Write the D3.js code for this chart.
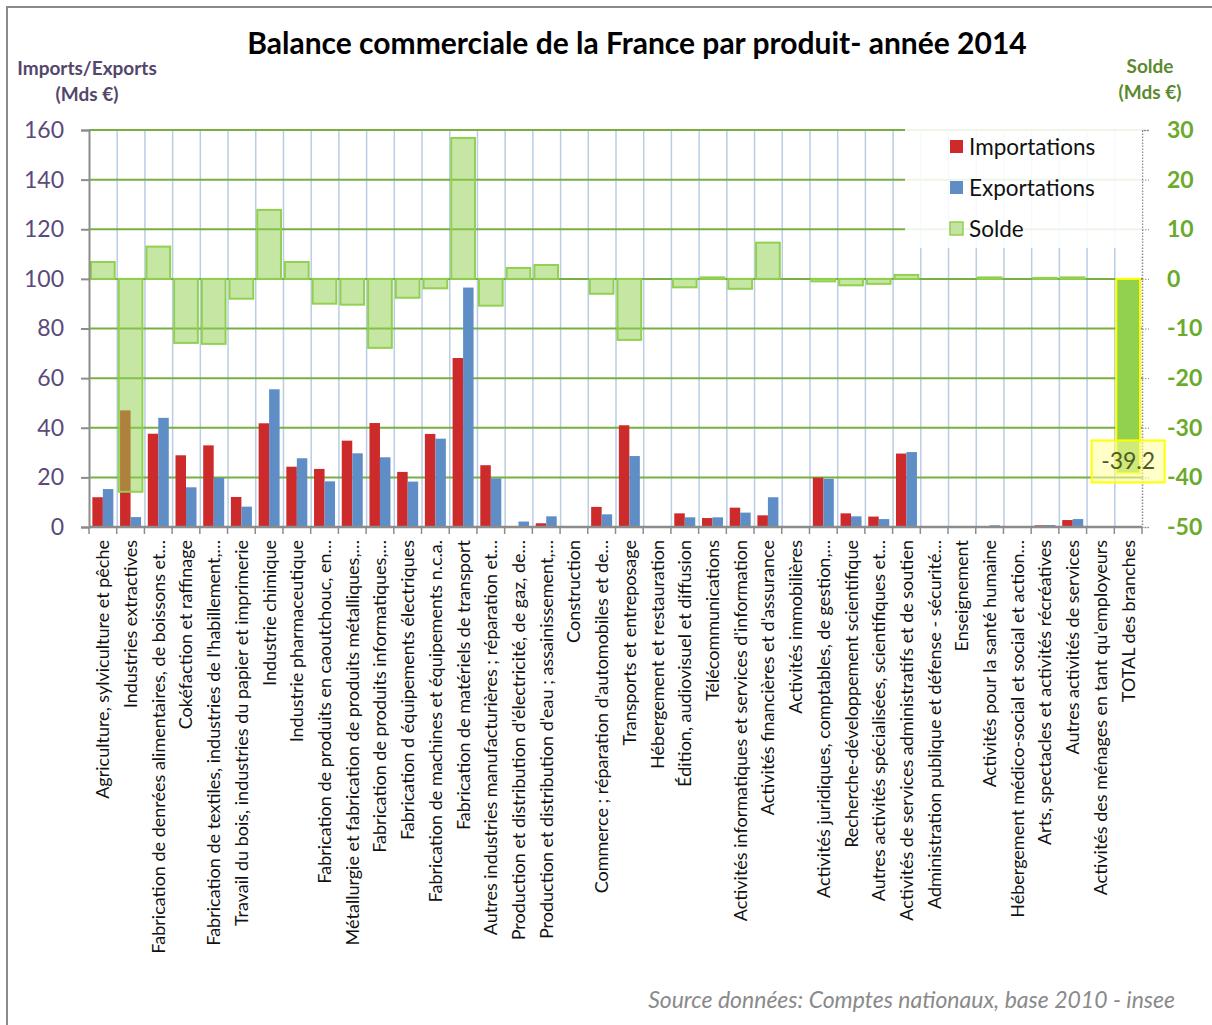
<!DOCTYPE html>
<html>
<head>
<meta charset="utf-8">
<script src="https://cdn.jsdelivr.net/npm/d3@7"></script>
<style>
  body { margin: 0; background: #fff; }
  svg { display: block; font-family: Lato, "Noto Sans", sans-serif; }
</style>
</head>
<body>
<svg id="chart"></svg>
<script>
// categories (labels truncated as in the original Excel chart)
const categories = [
  'Agriculture, sylviculture et pêche',
  'Industries extractives',
  'Fabrication de denrées alimentaires, de boissons et…',
  'Cokéfaction et raffinage',
  "Fabrication de textiles, industries de l'habillement,…",
  'Travail du bois, industries du papier et imprimerie',
  'Industrie chimique',
  'Industrie pharmaceutique',
  'Fabrication de produits en caoutchouc, en…',
  'Métallurgie et fabrication de produits métalliques,…',
  'Fabrication de produits informatiques,…',
  'Fabrication d équipements électriques',
  'Fabrication de machines et équipements n.c.a.',
  'Fabrication de matériels de transport',
  'Autres industries manufacturières ; réparation et…',
  "Production et distribution d'électricité, de gaz, de…",
  "Production et distribution d'eau ; assainissement,…",
  'Construction',
  "Commerce ; réparation d'automobiles et de…",
  'Transports et entreposage',
  'Hébergement et restauration',
  'Édition, audiovisuel et diffusion',
  'Télécommunications',
  "Activités informatiques et services d'information",
  "Activités financières et d'assurance",
  'Activités immobilières',
  'Activités juridiques, comptables, de gestion,…',
  'Recherche-développement scientifique',
  'Autres activités spécialisées, scientifiques et…',
  'Activités de services administratifs et de soutien',
  'Administration publique et défense - sécurité…',
  'Enseignement',
  'Activités pour la santé humaine',
  'Hébergement médico-social et social et action…',
  'Arts, spectacles et activités récréatives',
  'Autres activités de services',
  "Activités des ménages en tant qu'employeurs",
  'TOTAL des branches'
];

// Mds €
const importations = [12.0, 47.0, 37.6, 28.9, 32.9, 12.1, 41.8, 24.3, 23.4, 34.8,
  41.9, 22.2, 37.5, 68.1, 24.9, 0, 1.5, 0, 8.1, 41.0,
  0, 5.5, 3.6, 7.8, 4.7, 0, 19.9, 5.5, 4.2, 29.6,
  0, 0, 0.4, 0, 0.7, 2.8, 0, null];
const exportations = [15.3, 4.0, 44.0, 16.0, 19.8, 8.2, 55.5, 27.7, 18.4, 29.7,
  28.1, 18.3, 35.6, 96.5, 19.6, 2.2, 4.3, 0, 5.1, 28.6,
  0, 3.9, 3.9, 5.8, 12.0, 0, 19.4, 4.3, 3.2, 30.2,
  0, 0, 0.7, 0, 0.8, 3.2, 0, null];
const solde = [3.4, -42.9, 6.5, -12.9, -13.1, -4.0, 13.9, 3.4, -5.0, -5.2,
  -13.9, -3.8, -1.9, 28.4, -5.4, 2.2, 2.8, 0, -3.0, -12.3,
  0, -1.7, 0.3, -2.0, 7.3, 0, -0.5, -1.3, -1.0, 0.8,
  0, 0, 0.3, 0, 0.2, 0.3, 0, -39.2];

const leftTicks = [0, 20, 40, 60, 80, 100, 120, 140, 160];
const rightTicks = [-50, -40, -30, -20, -10, 0, 10, 20, 30];
const seriesNames = ['Importations', 'Exportations', 'Solde'];

const width = 1212, height = 1025;
const margin = { top: 130, right: 70, bottom: 498, left: 89 };
const plotW = width - margin.left - margin.right;   // ends at x = 1142
const plotH = height - margin.top - margin.bottom;  // ends at y = 527

const colors = {
  imp: '#cc2a2b',
  exp: '#5f8ec6',
  solde: '#92d050',
  grid: '#77b040',
  vgrid: '#b9cde5',
  axis: '#8c8c8c',
  leftText: '#5a4a7a',
  rightText: '#6aaa2c'
};

const svg = d3.select('#chart')
  .attr('width', width)
  .attr('height', height);

// outer frame (only left and top edges are visible)
svg.append('rect')
  .attr('x', 7).attr('y', 7)
  .attr('width', 1220).attr('height', 1030)
  .attr('fill', 'none')
  .attr('stroke', '#8a8a8a')
  .attr('stroke-width', 2);

const x = d3.scaleBand()
  .domain(categories)
  .range([0, plotW]);

const xInner = d3.scaleBand()
  .domain(['imp', 'exp'])
  .range([0, x.bandwidth()])
  .paddingOuter(0.32);

const yLeft = d3.scaleLinear().domain([0, 160]).range([plotH, 0]);
const yRight = d3.scaleLinear().domain([-50, 30]).range([plotH, 0]);

const g = svg.append('g')
  .attr('transform', `translate(${margin.left},${margin.top})`);

// vertical grid lines at category boundaries
g.append('g')
  .selectAll('line')
  .data(categories.slice(1))
  .join('line')
    .attr('x1', d => x(d) + 0.5)
    .attr('x2', d => x(d) + 0.5)
    .attr('y1', 0)
    .attr('y2', plotH)
    .attr('stroke', colors.vgrid)
    .attr('stroke-width', 1.5);

// horizontal grid lines
g.append('g')
  .selectAll('line')
  .data(leftTicks.filter(d => d > 0))
  .join('line')
    .attr('x1', 0)
    .attr('x2', plotW)
    .attr('y1', d => yLeft(d))
    .attr('y2', d => yLeft(d))
    .attr('stroke', colors.grid)
    .attr('stroke-width', 2);

// imports / exports bars
const rows = categories.map((c, i) => ({ cat: c, imp: importations[i], exp: exportations[i], solde: solde[i] }));

['imp', 'exp'].forEach(key => {
  g.append('g')
    .selectAll('rect')
    .data(rows.filter(d => d[key]))
    .join('rect')
      .attr('x', d => x(d.cat) + xInner(key))
      .attr('y', d => yLeft(d[key]))
      .attr('width', xInner.bandwidth())
      .attr('height', d => yLeft(0) - yLeft(d[key]))
      .attr('fill', colors[key]);
});

// solde bars (secondary axis), semi transparent
const soldeInset = 2;
g.append('g')
  .selectAll('rect')
  .data(rows.filter(d => d.solde && d.cat !== 'TOTAL des branches'))
  .join('rect')
    .attr('x', d => x(d.cat) + soldeInset)
    .attr('y', d => yRight(Math.max(0, d.solde)))
    .attr('width', x.bandwidth() - soldeInset * 2)
    .attr('height', d => Math.abs(yRight(d.solde) - yRight(0)))
    .attr('fill', colors.solde)
    .attr('fill-opacity', 0.52)
    .attr('stroke', colors.solde)
    .attr('stroke-width', 2);

// total bar highlighted
const total = rows[rows.length - 1];
g.append('rect')
  .attr('x', x(total.cat) + soldeInset)
  .attr('y', yRight(0))
  .attr('width', x.bandwidth() - soldeInset * 2)
  .attr('height', yRight(total.solde) - yRight(0))
  .attr('fill', colors.solde)
  .attr('stroke', '#ffff00')
  .attr('stroke-width', 2);

// left axis
const leftAxis = g.append('g')
  .call(d3.axisLeft(yLeft).tickValues(leftTicks).tickSize(8).tickPadding(17));
leftAxis.select('.domain').attr('stroke', colors.axis).attr('stroke-width', 2);
leftAxis.selectAll('.tick line').attr('stroke', colors.axis).attr('stroke-width', 2);
leftAxis.selectAll('.tick text')
  .attr('fill', colors.leftText)
  .style('font-size', '23px')
  .style('font-family', 'Lato, sans-serif');

// right axis (dotted), plain hyphen for negatives like Excel
const rightAxis = g.append('g')
  .attr('transform', `translate(${plotW},0)`)
  .call(d3.axisRight(yRight).tickValues(rightTicks).tickSize(7).tickPadding(18)
    .tickFormat(d => String(d)));
rightAxis.select('.domain')
  .attr('stroke', colors.axis)
  .attr('stroke-width', 1.5)
  .attr('stroke-dasharray', '1.5,1.5');
rightAxis.selectAll('.tick line')
  .attr('stroke', colors.axis)
  .attr('stroke-dasharray', '1.5,1.5');
rightAxis.selectAll('.tick text')
  .attr('fill', colors.rightText)
  .style('font-size', '23px')
  .style('font-weight', 'bold')
  .style('font-family', 'Lato, sans-serif');

// bottom axis with ticks between categories
const bottom = g.append('g').attr('transform', `translate(0,${plotH})`);
bottom.append('line')
  .attr('x1', 0).attr('x2', plotW)
  .attr('stroke', colors.axis)
  .attr('stroke-width', 2.5);
bottom.selectAll('.cat-tick')
  .data(categories.concat(['end']))
  .join('line')
    .attr('class', 'cat-tick')
    .attr('x1', (d, i) => i * x.step())
    .attr('x2', (d, i) => i * x.step())
    .attr('y1', 0)
    .attr('y2', 7)
    .attr('stroke', colors.axis)
    .attr('stroke-width', 1.5);

// category labels, rotated
bottom.selectAll('.cat-label')
  .data(categories)
  .join('text')
    .attr('class', 'cat-label')
    .attr('transform', d => `translate(${x(d) + x.bandwidth() / 2},13) rotate(-90)`)
    .attr('dy', '0.36em')
    .attr('text-anchor', 'end')
    .attr('fill', '#111')
    .style('font-size', '18px')
    .text(d => d);

// label for total
const labelBox = { w: 73, h: 42 };
const lx = x(total.cat) + x.bandwidth() / 2;
const ly = yRight(total.solde) - 12;
g.append('rect')
  .attr('x', lx - labelBox.w / 2)
  .attr('y', ly - labelBox.h / 2)
  .attr('width', labelBox.w)
  .attr('height', labelBox.h)
  .attr('fill', '#ffff99')
  .attr('fill-opacity', 0.55)
  .attr('stroke', '#ffff00')
  .attr('stroke-width', 2);
g.append('text')
  .attr('x', lx)
  .attr('y', ly)
  .attr('dy', '0.35em')
  .attr('text-anchor', 'middle')
  .attr('fill', '#4e5a2c')
  .style('font-size', '23px')
  .text(total.solde.toFixed(1));

// legend
const legend = svg.append('g').attr('transform', 'translate(905,128)');
legend.append('rect')
  .attr('width', 237).attr('height', 120)
  .attr('fill', '#fff')
  .attr('fill-opacity', 0.88);
const legendItems = legend.selectAll('.item')
  .data(seriesNames)
  .join('g')
    .attr('class', 'item')
    .attr('transform', (d, i) => `translate(45,${12 + i * 41})`);
legendItems.append('rect')
  .attr('width', 13).attr('height', 13)
  .attr('fill', (d, i) => i === 0 ? colors.imp : i === 1 ? colors.exp : '#c4e3a0')
  .attr('stroke', (d, i) => i === 2 ? colors.solde : 'none')
  .attr('stroke-width', 1.5);
legendItems.append('text')
  .attr('x', 19)
  .attr('y', 7)
  .attr('dy', '0.36em')
  .attr('fill', '#111')
  .style('font-size', '22.5px')
  .text(d => d);

// titles
svg.append('text')
  .attr('x', 637).attr('y', 54)
  .attr('text-anchor', 'middle')
  .attr('fill', '#000')
  .style('font-size', '30px')
  .style('font-weight', 'bold')
  .text('Balance commerciale de la France par produit- année 2014');

const leftTitle = svg.append('text')
  .attr('text-anchor', 'middle')
  .attr('fill', '#54466a')
  .style('font-size', '19px')
  .style('font-weight', 'bold');
leftTitle.append('tspan').attr('x', 87).attr('y', 75).text('Imports/Exports');
leftTitle.append('tspan').attr('x', 87).attr('y', 101).text('(Mds €)');

const rightTitle = svg.append('text')
  .attr('text-anchor', 'middle')
  .attr('fill', '#5b8a2e')
  .style('font-size', '19px')
  .style('font-weight', 'bold');
rightTitle.append('tspan').attr('x', 1150).attr('y', 73).text('Solde');
rightTitle.append('tspan').attr('x', 1150).attr('y', 99).text('(Mds €)');

svg.append('text')
  .attr('x', 1175).attr('y', 1008)
  .attr('text-anchor', 'end')
  .attr('fill', '#8a8a8a')
  .style('font-size', '23px')
  .style('font-style', 'italic')
  .text('Source données: Comptes nationaux, base 2010 - insee');
</script>
</body>
</html>
